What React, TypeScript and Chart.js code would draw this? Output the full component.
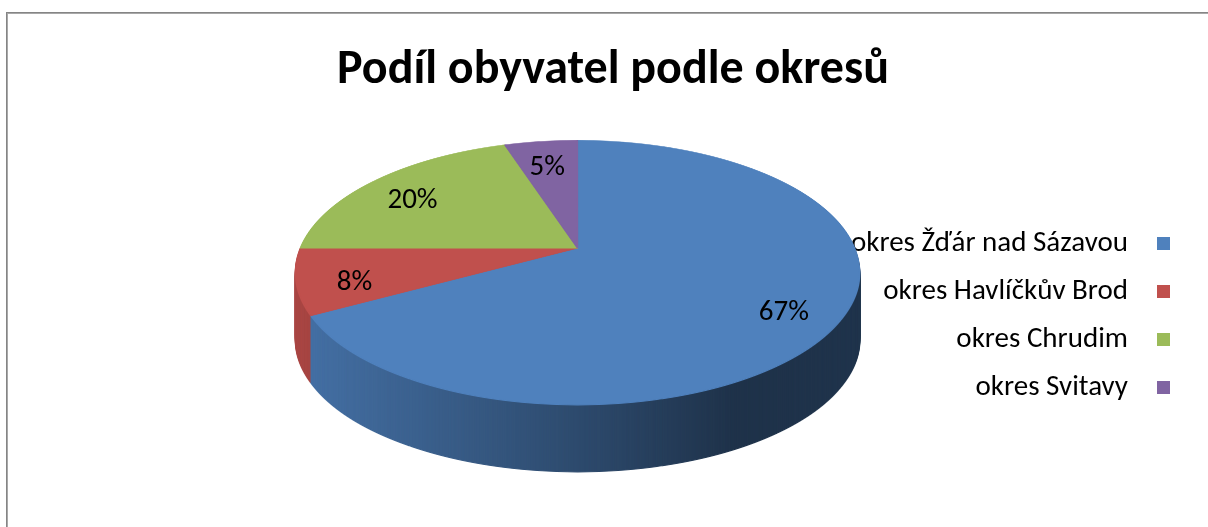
import React, { useEffect, useRef } from "react";
import { Chart, registerables } from "chart.js";

Chart.register(...registerables);

const titleText = "Podíl obyvatel podle okresů";
const categories = [
  "okres Žďár nad Sázavou",
  "okres Havlíčkův Brod",
  "okres Chrudim",
  "okres Svitavy",
];
const shares = [67, 8, 20, 5];
const topColors = ["#4f81bd", "#c0504d", "#9bbb59", "#8064a2"];
const wallShade: [number, number][] = [
  [0, 0.12],
  [0.5, 0.42],
  [0.78, 0.61],
  [1, 0.6],
];

const FONT = "Carlito, 'Open Sans', sans-serif";
const LEGEND_SIZE = 29;
const STRETCH = 1.52; // horizontal size of the disc vs. chart radius
const TILT = 0.469; // vertical / horizontal radius of the top face
const DEPTH = 0.237; // wall height vs. horizontal radius
const PERSPECTIVE = 0.185; // how far the centre appears lifted (fraction of vertical radius)
const LABEL_POS = 0.8;
const LABEL_DROP = 8;

function geometry(arc: any) {
  const r = arc.outerRadius;
  const RX = r * STRETCH;
  const RY = RX * TILT;
  const depth = RX * DEPTH;
  const phi = Math.atanh(-PERSPECTIVE);
  return {
    ax: arc.x,
    ay: arc.y,
    r,
    RX,
    RY,
    depth,
    Xc: arc.x,
    Yc: arc.y - depth / 2,
    s: Math.sinh(phi),
    c: Math.cosh(phi),
  };
}

function toScreen(geo: any, u: number, v: number) {
  const q = v * geo.s + geo.c;
  const U = u / q;
  const V = (v * geo.c + geo.s) / q;
  return [geo.Xc + geo.RX * U, geo.Yc + geo.RY * V];
}

function drawFace(ctx: CanvasRenderingContext2D, arcs: any[], geo: any, colors: string[], width: number) {
  const { Xc, Yc, RX, RY, r, ax, ay, s, c } = geo;
  const y0 = Math.floor(Yc - RY) - 1;
  const y1 = Math.ceil(Yc + RY) + 1;
  for (let y = y0; y < y1; y++) {
    const V0 = (y + 0.5 - Yc) / RY;
    const v0 = (V0 * c - s) / (c - V0 * s);
    const q = v0 * s + c;
    const g0 = 1 / q;
    const d0 = 1 / (q * q);
    ctx.save();
    ctx.beginPath();
    ctx.rect(0, y, width, 1);
    ctx.clip();
    ctx.translate(Xc, Yc + RY * (V0 - d0 * v0));
    ctx.scale((RX * g0) / r, (RY * d0) / r);
    ctx.translate(-ax, -ay);
    arcs.forEach((arc: any, i: number) => {
      const orig = arc.options;
      arc.options = Object.assign({}, orig, {
        backgroundColor: colors[i],
        borderColor: colors[i],
        borderWidth: 1,
      });
      arc.draw(ctx);
      arc.options = orig;
    });
    ctx.restore();
  }
}

const framePlugin = {
  id: "frame",
  beforeDraw(chart: any) {
    const ctx = chart.ctx;
    ctx.save();
    ctx.fillStyle = "#858585";
    ctx.fillRect(6, 12, chart.width, 1);
    ctx.fillRect(6, 12, 1, chart.height);
    ctx.fillStyle = "#a8a8a8";
    ctx.fillRect(7, 13, chart.width, 1);
    ctx.fillRect(7, 13, 1, chart.height);
    ctx.restore();
  },
};

const pie3dPlugin = {
  id: "pie3d",
  beforeDatasetsDraw(chart: any) {
    const ctx: CanvasRenderingContext2D = chart.ctx;
    const arcs = chart.getDatasetMeta(0).data;
    if (!arcs.length) return;
    const geo = geometry(arcs[0]);

    // side wall: the face in shaded colours, extruded downwards
    const off = document.createElement("canvas");
    off.width = chart.width;
    off.height = chart.height;
    const octx = off.getContext("2d")!;
    drawFace(octx, arcs, geo, topColors, chart.width);
    octx.globalCompositeOperation = "source-atop";
    const shade = octx.createLinearGradient(geo.Xc - geo.RX, 0, geo.Xc + geo.RX, 0);
    wallShade.forEach(([o, a]) => shade.addColorStop(o, `rgba(0,0,0,${a})`));
    octx.fillStyle = shade;
    octx.fillRect(0, 0, chart.width, chart.height);
    const depth = Math.round(geo.depth);
    for (let d = depth; d >= 1; d--) ctx.drawImage(off, 0, d);

    // top face
    drawFace(ctx, arcs, geo, topColors, chart.width);

    // percentage labels
    const total = shares.reduce((a, b) => a + b, 0);
    ctx.save();
    ctx.font = `${LEGEND_SIZE}px ${FONT}`;
    ctx.fillStyle = "#000";
    ctx.textAlign = "center";
    ctx.textBaseline = "middle";
    arcs.forEach((arc: any, i: number) => {
      const mid = (arc.startAngle + arc.endAngle) / 2;
      const [px, py] = toScreen(geo, Math.cos(mid) * LABEL_POS, Math.sin(mid) * LABEL_POS);
      ctx.fillText(Math.round((shares[i] / total) * 100) + "%", px, py + LABEL_DROP);
    });
    ctx.restore();
    return false;
  },
};

function makeMarker(color: string) {
  const c = document.createElement("canvas");
  c.width = 26;
  c.height = 13;
  const g = c.getContext("2d")!;
  g.fillStyle = color;
  g.fillRect(13, 0, 13, 13);
  return c;
}

export default function App() {
  const ref = useRef<HTMLCanvasElement>(null);
  useEffect(() => {
    if (!ref.current) return;
    const markers = topColors.map(makeMarker);
    const chart = new Chart(ref.current, {
      type: "pie",
      data: {
        labels: categories,
        datasets: [
          {
            data: shares,
            backgroundColor: topColors,
            borderColor: topColors,
            borderWidth: 1,
            clip: false as any,
          },
        ],
      },
      options: {
        responsive: false,
        animation: false,
        events: [],
        layout: { padding: { left: 314, right: 17.5, top: 120, bottom: 35 } },
        plugins: {
          title: { display: false },
          legend: {
            position: "right",
            align: "center",
            rtl: true,
            title: {
              display: true,
              text: " ",
              font: { family: FONT, size: 15.5, lineHeight: 1.2 },
              padding: 0,
            },
            labels: {
              usePointStyle: true,
              boxWidth: LEGEND_SIZE,
              boxHeight: 13,
              padding: 48 - LEGEND_SIZE,
              color: "#000",
              font: { family: FONT, size: LEGEND_SIZE },
              generateLabels: () =>
                categories.map((text, i) => ({
                  text,
                  fillStyle: topColors[i],
                  strokeStyle: topColors[i],
                  lineWidth: 0,
                  pointStyle: markers[i] as any,
                  hidden: false,
                  index: i,
                  fontColor: "#000",
                })),
            },
          },
          tooltip: { enabled: false },
        },
      },
      plugins: [framePlugin, pie3dPlugin],
    });
    return () => chart.destroy();
  }, []);
  return (
    <div style={{ position: "absolute", left: 0, top: 0, width: 1208, height: 527, overflow: "hidden" }}>
      <canvas ref={ref} width={1208} height={527} style={{ display: "block" }} />
      <div
        style={{
          position: "absolute",
          left: 0,
          top: 38,
          width: 1208,
          paddingLeft: 18,
          boxSizing: "border-box",
          textAlign: "center",
          fontFamily: FONT,
          fontWeight: "bold",
          fontSize: 48,
          lineHeight: "57.6px",
          color: "#000",
          whiteSpace: "nowrap",
        }}
      >
        {titleText}
      </div>
    </div>
  );
}
